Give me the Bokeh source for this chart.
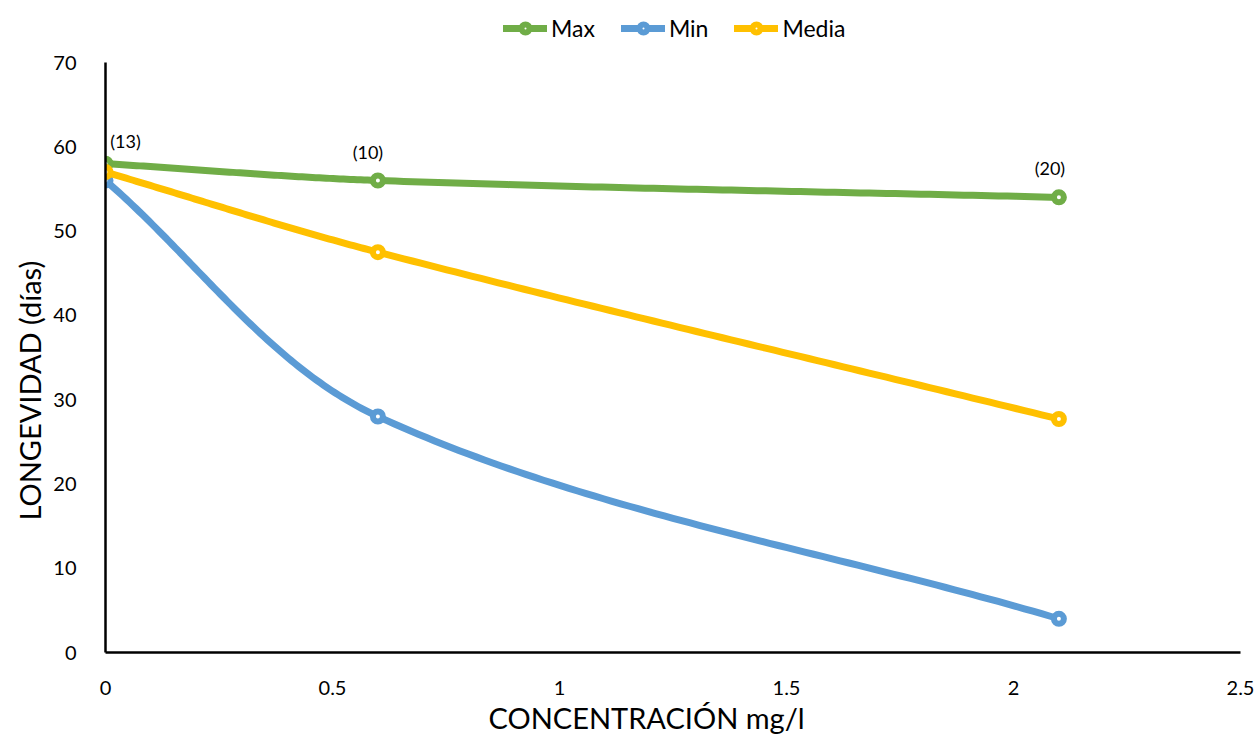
import numpy as np
from bokeh.plotting import figure
from bokeh.models import Range1d, FixedTicker, NumeralTickFormatter, Legend, LegendItem, Title
from bokeh.embed import file_html
from bokeh.resources import INLINE
from bokeh.core.properties import value

# ---- data ----
conc = [0, 0.6, 2.1]
max_vals = [58, 56, 54]
min_vals = [56, 28, 4]
media_vals = [57, 47.5, 27.7]
n_labels = ["(13)", "(10)", "(20)"]
x_ticks = [0, 0.5, 1, 1.5, 2, 2.5]
y_ticks = [0, 10, 20, 30, 40, 50, 60, 70]

# ---- styles / layout ----
FONT = "Lato"
W, H = 1255, 740
LEFT, RIGHT, TOP, BOTTOM = 105, 15, 8, 88
AXIS_TOP_GAP = 54          # px between frame top and top of the y axis (room for legend)
XR, YMAX = (0, 2.5), 70
label_dx = [20, -10, -9]
label_dy = [23, 29, 29]

fw = W - LEFT - RIGHT
fh = H - TOP - BOTTOM
sx = fw / (XR[1] - XR[0])
sy = (fh - AXIS_TOP_GAP) / YMAX
y_top = fh / sy


def smooth(xs, ys, n=80):
    """Excel-like smoothing: cubic Bezier with chord-length-weighted tangents."""
    P = np.column_stack([np.asarray(xs, float) * sx, np.asarray(ys, float) * sy])
    m = len(P)
    out = []
    for i in range(m - 1):
        p0 = P[max(i - 1, 0)]
        p1 = P[i]
        p2 = P[i + 1]
        p3 = P[min(i + 2, m - 1)]
        d01 = np.linalg.norm(p1 - p0)
        d12 = np.linalg.norm(p2 - p1)
        d23 = np.linalg.norm(p3 - p2)
        c1 = p1 + (p2 - p0) * d12 / (d01 + d12) / 3
        c2 = p2 - (p3 - p1) * d12 / (d12 + d23) / 3
        t = np.linspace(0, 1, n)[:, None]
        seg = (1 - t) ** 3 * p1 + 3 * (1 - t) ** 2 * t * c1 + 3 * (1 - t) * t ** 2 * c2 + t ** 3 * p2
        out.append(seg if i == 0 else seg[1:])
    arr = np.vstack(out)
    return arr[:, 0] / sx, arr[:, 1] / sy


p = figure(width=W, height=H, output_backend="svg", toolbar_location=None,
           x_range=Range1d(*XR), y_range=Range1d(0, y_top),
           min_border_left=LEFT, min_border_right=RIGHT,
           min_border_top=TOP, min_border_bottom=BOTTOM)
p.outline_line_color = None
p.xgrid.visible = False
p.ygrid.visible = False

for ax in (p.xaxis[0], p.yaxis[0]):
    ax.axis_line_color = "black"
    ax.axis_line_width = 2.5
    ax.major_tick_line_color = None
    ax.minor_tick_line_color = None
    ax.major_label_text_font = FONT
    ax.major_label_text_font_size = "20px"
    ax.major_label_text_color = "black"

p.yaxis.bounds = (0, YMAX)
p.xaxis.ticker = FixedTicker(ticks=x_ticks)
p.yaxis.ticker = FixedTicker(ticks=y_ticks)
p.xaxis.formatter = NumeralTickFormatter(format="0.[0]")
p.xaxis.major_label_standoff = 22
p.yaxis.major_label_standoff = 23

xt = Title(text="CONCENTRACIÓN mg/l", align="left", offset=383,
           text_font=FONT, text_font_size="29px", text_font_style="normal",
           text_color="black", standoff=0)
yt = Title(text="LONGEVIDAD (días)", align="left", offset=132,
           text_font=FONT, text_font_size="29px", text_font_style="normal",
           text_color="black", standoff=8)
p.add_layout(xt, "below")
p.add_layout(yt, "left")

series = [("Max", max_vals, "#70AD47"), ("Min", min_vals, "#5B9BD5"), ("Media", media_vals, "#FFC000")]
items = []
for name, vals, col in series:
    xs, ys = smooth(conc, vals)
    r1 = p.line(xs, ys, line_color=col, line_width=7, line_cap="round", line_join="round")
    r2 = p.scatter(conc, vals, size=10, marker="circle", fill_color="white",
                   line_color=col, line_width=6)
    items.append(LegendItem(label=name, renderers=[r1, r2]))

for i, lab in enumerate(n_labels):
    p.text([conc[i]], [max_vals[i]], text=[lab], x_offset=label_dx[i], y_offset=-label_dy[i],
           text_font=value(FONT), text_font_size="18px", text_color="black",
           text_align="center", text_baseline="middle")

legend = Legend(items=items, orientation="horizontal", location=(398, fh - 34),
                label_text_font=FONT, label_text_font_size="23px", label_text_color="black",
                glyph_width=44, glyph_height=20, spacing=26, label_standoff=4,
                border_line_color=None, background_fill_alpha=0,
                margin=0, padding=4)
p.add_layout(legend)

open("out.html", "w").write(file_html(p, INLINE))
